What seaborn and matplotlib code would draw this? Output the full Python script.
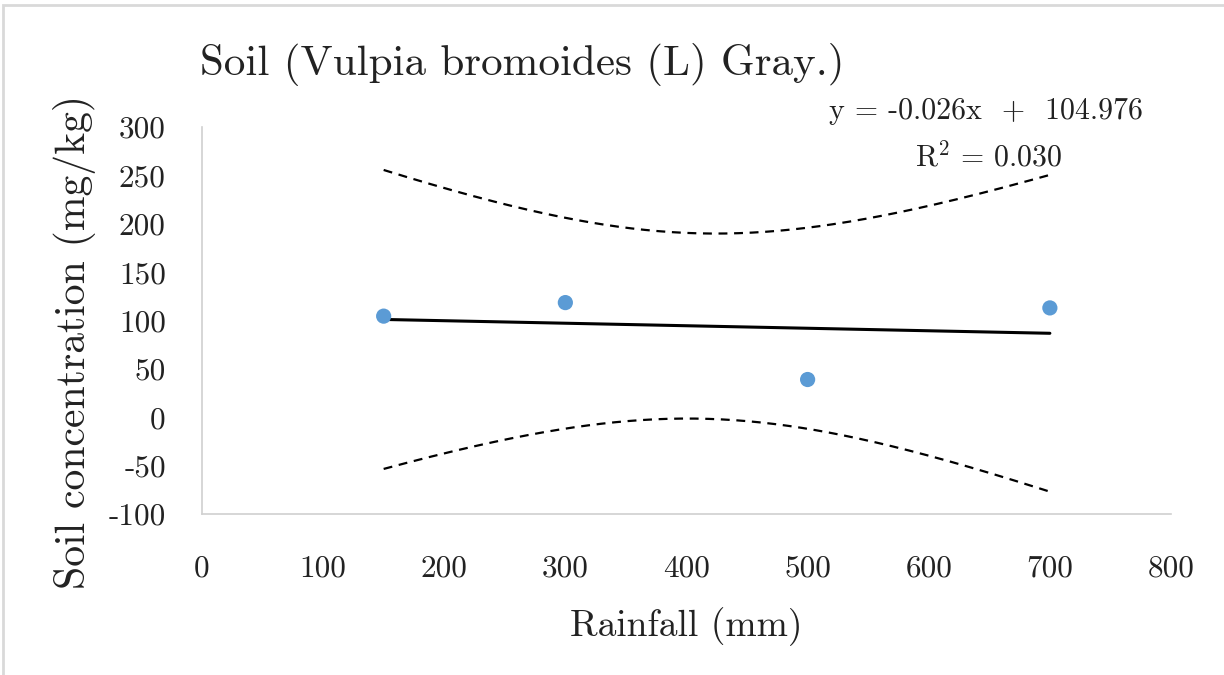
import numpy as np
import pandas as pd
import matplotlib
matplotlib.use("Agg")
import matplotlib.pyplot as plt
from matplotlib.patches import Rectangle
import seaborn as sns

# Observations
rainfall = [150, 300, 500, 700]          # mm
soil_conc = [104.5, 118.5, 39.0, 113.0]  # mg/kg

# Fitted linear trend as reported
slope = -0.026
intercept = 104.976
r_squared = 0.030
t_crit = 4.303  # two-sided 95 %, df = n - 2 = 2

x_ticks = [0, 100, 200, 300, 400, 500, 600, 700, 800]
y_ticks = [-100, -50, 0, 50, 100, 150, 200, 250, 300]

sns.set_theme(style="white")
plt.rcParams["font.family"] = ["cmr10", "DejaVu Serif"]
plt.rcParams["mathtext.fontset"] = "cm"
plt.rcParams["axes.unicode_minus"] = False
plt.rcParams["axes.formatter.use_mathtext"] = False

df = pd.DataFrame({"rainfall": rainfall, "soil": soil_conc})

# Trend line and 95 % confidence band for the mean response
x = np.asarray(rainfall, dtype=float)
y = np.asarray(soil_conc, dtype=float)
n = len(x)
xm = x.mean()
sxx = ((x - xm) ** 2).sum()
resid = y - (intercept + slope * x)
s = np.sqrt((resid ** 2).sum() / (n - 2))
xs = np.linspace(x.min(), x.max(), 200)
fit = intercept + slope * xs
half = t_crit * s * np.sqrt(1.0 / n + (xs - xm) ** 2 / sxx)
band = pd.DataFrame({"x": xs, "fit": fit, "upper": fit + half, "lower": fit - half})

fig = plt.figure(figsize=(12.24, 6.75), dpi=100)
ax = fig.add_axes([0.165, 0.2385, 0.7917, 0.5734])

sns.lineplot(data=band, x="x", y="upper", ax=ax, color="black", lw=1.6,
             linestyle=(0, (4, 3)), sort=False)
sns.lineplot(data=band, x="x", y="lower", ax=ax, color="black", lw=1.6,
             linestyle=(0, (4, 3)), sort=False)
sns.lineplot(data=band, x="x", y="fit", ax=ax, color="black", lw=2.2, sort=False)
sns.scatterplot(data=df, x="rainfall", y="soil", ax=ax, color="#5b9bd5",
                s=120, edgecolor="none", zorder=5)

ax.set_xlim(0, 800)
ax.set_ylim(-100, 300)
ax.set_xticks(x_ticks)
ax.set_yticks(y_ticks)
ax.tick_params(axis="both", length=0, labelsize=22.5, colors="#222222")
ax.tick_params(axis="x", pad=29)
ax.tick_params(axis="y", pad=26)

for side in ("top", "right"):
    ax.spines[side].set_visible(False)
for side in ("left", "bottom"):
    ax.spines[side].set_color("#d0d0d0")
    ax.spines[side].set_linewidth(1.2)

ax.set_xlabel("Rainfall (mm)", fontsize=27, color="#222222", labelpad=18)
ax.set_ylabel("Soil concentration (mg/kg)", fontsize=30, color="#222222", labelpad=9)
ax.yaxis.label.set_y(0.444)

fig.text(0.1634, 0.904, "Soil (Vulpia bromoides (L) Gray.)", fontsize=31,
         color="#222222", ha="left", va="center")

ax.text(0.9706, 1.04, f"y = {slope:.3f}x  +  {intercept:.3f}", transform=ax.transAxes,
        fontsize=21.5, ha="right", va="center", color="#222222")
ax.text(0.888, 0.9225, f"R$^2$ = {r_squared:.3f}", transform=ax.transAxes,
        fontsize=21.5, ha="right", va="center", color="#222222")

# Light outer frame
fig.patches.append(Rectangle((3 / 1224, -0.05), 1.1, 1.05 - 5 / 675,
                             transform=fig.transFigure, fill=False,
                             edgecolor="#d9d9d9", lw=2.0))

fig.savefig("out.png", dpi=100)
